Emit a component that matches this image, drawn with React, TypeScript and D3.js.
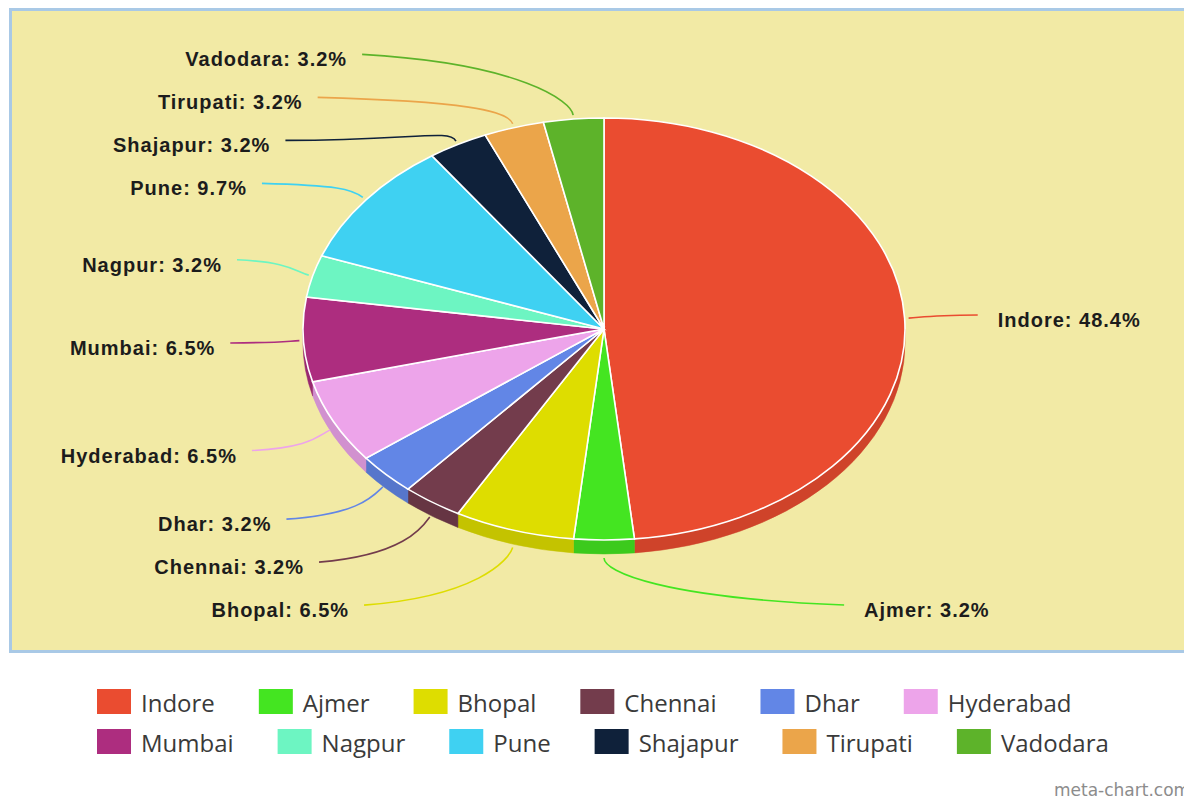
import React, { useEffect, useRef } from 'react';
import * as d3 from 'd3';

const cities = ['Indore', 'Ajmer', 'Bhopal', 'Chennai', 'Dhar', 'Hyderabad', 'Mumbai', 'Nagpur', 'Pune', 'Shajapur', 'Tirupati', 'Vadodara'];
const counts = [15, 1, 2, 1, 1, 2, 2, 1, 3, 1, 1, 1];
const colors = ['#ea4c30', '#44e521', '#dedd00', '#733c4c', '#6286e6', '#eda4ea', '#ad2d7f', '#6df5c2', '#3fd1f2', '#0f213a', '#eba54a', '#5db32a'];
const legendRows = [cities.slice(0, 6), cities.slice(6)];

const W = 1184;
const H = 800;

const App = () => {
    const svgRef = useRef<SVGSVGElement>(null);

    useEffect(() => {
        document.body.style.margin = '0';
        const svg = d3.select(svgRef.current);
        svg.selectAll('*').remove();

        const cx = 604, cy = 329, rx = 301, ry = 211, depth = 14;
        const total = d3.sum(counts);
        const color = d3.scaleOrdinal<string, string>().domain(cities).range(colors);
        const data = cities.map((c, i) => ({ city: c, count: counts[i] }));

        // background panel
        svg.append('rect')
            .attr('x', 10.5).attr('y', 9.5)
            .attr('width', 1200).attr('height', 642)
            .attr('fill', '#f2eaa5')
            .attr('stroke', '#a9c9e6')
            .attr('stroke-width', 3);

        const arcs = d3.pie<any>().sort(null).value(d => d.count)(data);

        const ex = (a: number, dx = 0) => cx + (rx + dx) * Math.sin(a);
        const ey = (a: number, dy = 0) => cy - (ry + dy) * Math.cos(a);

        // side walls (front half only)
        const sides = svg.append('g');
        arcs.forEach(d => {
            const a0 = Math.max(d.startAngle, Math.PI / 2);
            const a1 = Math.min(d.endAngle, Math.PI * 1.5);
            if (a1 <= a0) return;
            const sideColor = d3.color(color(d.data.city))!.darker(0.35).toString();
            const p = `M${ex(a0)},${ey(a0)} A${rx},${ry} 0 0 1 ${ex(a1)},${ey(a1)}`
                + ` L${ex(a1)},${ey(a1) + depth} A${rx},${ry} 0 0 0 ${ex(a0)},${ey(a0) + depth} Z`;
            sides.append('path')
                .attr('d', p)
                .attr('fill', sideColor)
                .attr('stroke', sideColor)
                .attr('stroke-width', 0.5);
        });

        // top face
        const arc = d3.arc<any>().innerRadius(0).outerRadius(rx);
        svg.append('g')
            .attr('transform', `translate(${cx},${cy}) scale(1,${ry / rx})`)
            .selectAll('path')
            .data(arcs)
            .join('path')
            .attr('d', arc)
            .attr('fill', d => color(d.data.city))
            .attr('stroke', '#fff')
            .attr('stroke-width', 1.6)
            .attr('vector-effect', 'non-scaling-stroke');

        // labels: place on a bigger ellipse, then push apart
        const labelRy = 276, lineRx = 374, lineRy = 360, gap = 43;
        const labels = arcs.map(d => {
            const a = (d.startAngle + d.endAngle) / 2;
            return { d, a, right: Math.sin(a) >= 0, y: cy - labelRy * Math.cos(a), x: 0 };
        });
        [true, false].forEach(side => {
            const grp = labels.filter(l => l.right === side).sort((p, q) => p.y - q.y);
            for (let i = 1; i < grp.length; i++) {
                if (grp[i].y < grp[i - 1].y + gap) grp[i].y = grp[i - 1].y + gap;
            }
        });
        labels.forEach(l => {
            const t = Math.max(0, 1 - Math.pow((l.y - cy) / lineRy, 2));
            l.x = cx + (l.right ? 1 : -1) * lineRx * Math.sqrt(t);
        });

        const lg = svg.append('g');
        labels.forEach(l => {
            const a = l.a;
            const s = Math.sin(a), c = Math.cos(a);
            const px = ex(a, 4);
            const py = ey(a, 4) + (c < 0 ? depth * -c : 0);
            const c1x = l.x + (px - l.x) * 0.75;
            const c1y = l.y + (py - l.y) * 0.15;
            const c2x = px + 14 * s, c2y = py - 14 * c;
            lg.append('path')
                .attr('d', `M${l.x},${l.y} C${c1x},${c1y} ${c2x},${c2y} ${px},${py}`)
                .attr('fill', 'none')
                .attr('stroke', color(l.d.data.city))
                .attr('stroke-width', 1.6);
            lg.append('text')
                .attr('x', l.right ? l.x + 20 : l.x - 15)
                .attr('y', l.y + 5)
                .attr('dy', '0.35em')
                .attr('text-anchor', l.right ? 'start' : 'end')
                .style('font-family', '"Liberation Sans", Arial, sans-serif')
                .style('font-weight', 'bold')
                .style('font-size', '20px')
                .style('letter-spacing', '1px')
                .attr('fill', '#1c1c1c')
                .text(`${l.d.data.city}: ${(l.d.data.count / total * 100).toFixed(1)}%`);
        });

        // legend (flow layout)
        const legend = svg.append('g');
        legendRows.forEach((row, ri) => {
            let x = 97;
            const y = 689 + ri * 40;
            row.forEach(name => {
                legend.append('rect')
                    .attr('x', x).attr('y', y)
                    .attr('width', 34).attr('height', 25)
                    .attr('fill', color(name));
                const t = legend.append('text')
                    .attr('x', x + 44)
                    .attr('y', y + 23)
                    .style('font-family', '"Open Sans", sans-serif')
                    .style('font-size', '24px')
                    .attr('fill', '#3a3a3a')
                    .text(name);
                const w = (t.node() as SVGTextElement).getComputedTextLength();
                x += 44 + w + 44;
            });
        });

        svg.append('text')
            .attr('x', 1054)
            .attr('y', 796)
            .style('font-family', '"DejaVu Sans", sans-serif')
            .style('font-size', '17px')
            .attr('fill', '#8c8c8c')
            .text('meta-chart.com');
    }, []);

    return <svg ref={svgRef} width={W} height={H} style={{ display: 'block' }}></svg>;
};

export default App;
